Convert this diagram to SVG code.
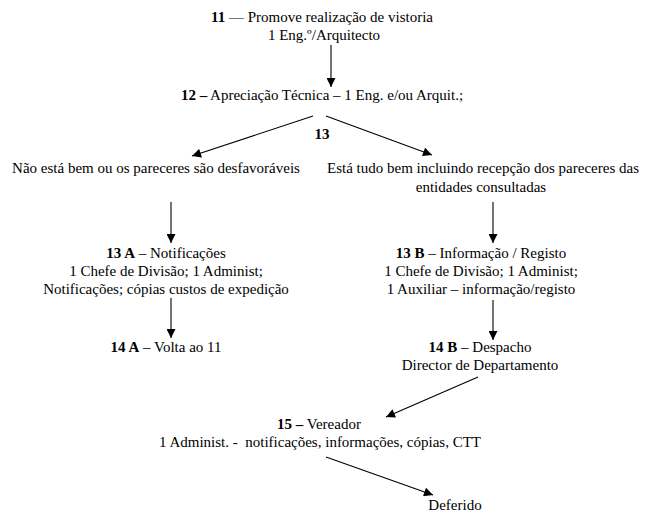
<svg xmlns="http://www.w3.org/2000/svg" width="649" height="515" viewBox="0 0 649 515">
  <style>
    text { font-family: 'Liberation Serif', 'Times New Roman', serif; font-size: 15px; fill: #000; text-anchor: middle; }
    .b { font-weight: bold; }
    .pre { white-space: pre; }
    .edge { stroke: #000; stroke-width: 1.1; fill: none; marker-end: url(#arrow); }
  </style>
  <defs>
    <!-- filled triangular arrowhead shared by all connectors -->
    <marker id="arrow" viewBox="0 0 10 10" refX="10" refY="5" markerWidth="10" markerHeight="9" markerUnits="userSpaceOnUse" orient="auto">
      <path d="M0,0 L10,5 L0,10 z" fill="#000"/>
    </marker>
  </defs>
  <rect width="649" height="515" fill="#fff"/>

  <!-- step 11 -->
  <g id="n11">
    <text x="322" y="22"><tspan class="b">11</tspan> — Promove realização de vistoria</text>
    <text x="324" y="40">1 Eng.º/Arquitecto</text>
  </g>
  <!-- step 12 -->
  <g id="n12">
    <text x="322" y="100"><tspan class="b">12 –</tspan> Apreciação Técnica – 1 Eng. e/ou Arquit.;</text>
  </g>
  <!-- decision 13 -->
  <g id="n13">
    <text class="b" x="322" y="139">13</text>
  </g>
  <g id="n13no">
    <text x="156" y="173">Não está bem ou os pareceres são desfavoráveis</text>
  </g>
  <g id="n13yes">
    <text x="483" y="173">Está tudo bem incluindo recepção dos pareceres das</text>
    <text x="481" y="192">entidades consultadas</text>
  </g>
  <!-- branch A -->
  <g id="n13a">
    <text x="166" y="258"><tspan class="b">13 A</tspan> – Notificações</text>
    <text x="166" y="276">1 Chefe de Divisão; 1 Administ;</text>
    <text x="166" y="294">Notificações; cópias custos de expedição</text>
  </g>
  <g id="n14a">
    <text x="166" y="352"><tspan class="b">14 A</tspan> – Volta ao 11</text>
  </g>
  <!-- branch B -->
  <g id="n13b">
    <text x="481" y="258"><tspan class="b">13 B</tspan> – Informação / Registo</text>
    <text x="481" y="276">1 Chefe de Divisão; 1 Administ;</text>
    <text x="481" y="294">1 Auxiliar – informação/registo</text>
  </g>
  <g id="n14b">
    <text x="480" y="352"><tspan class="b">14 B</tspan> – Despacho</text>
    <text x="480" y="370">Director de Departamento</text>
  </g>
  <!-- step 15 -->
  <g id="n15">
    <text x="319" y="429"><tspan class="b">15 –</tspan> Vereador</text>
    <text class="pre" x="320" y="447">1 Administ. -  notificações, informações, cópias, CTT</text>
  </g>
  <g id="nDef">
    <text x="455" y="510">Deferido</text>
  </g>

  <!-- connectors -->
  <g id="edges">
    <line class="edge" x1="331" y1="45" x2="331" y2="87"/>
    <line class="edge" x1="313" y1="116" x2="192" y2="156"/>
    <line class="edge" x1="326" y1="116" x2="432" y2="155"/>
    <line class="edge" x1="171" y1="202" x2="171" y2="243"/>
    <line class="edge" x1="493" y1="202" x2="493" y2="243"/>
    <line class="edge" x1="171" y1="298" x2="171" y2="338"/>
    <line class="edge" x1="493" y1="300" x2="493" y2="340"/>
    <line class="edge" x1="478" y1="377" x2="386" y2="417"/>
    <line class="edge" x1="326" y1="457" x2="433" y2="495"/>
  </g>
</svg>
